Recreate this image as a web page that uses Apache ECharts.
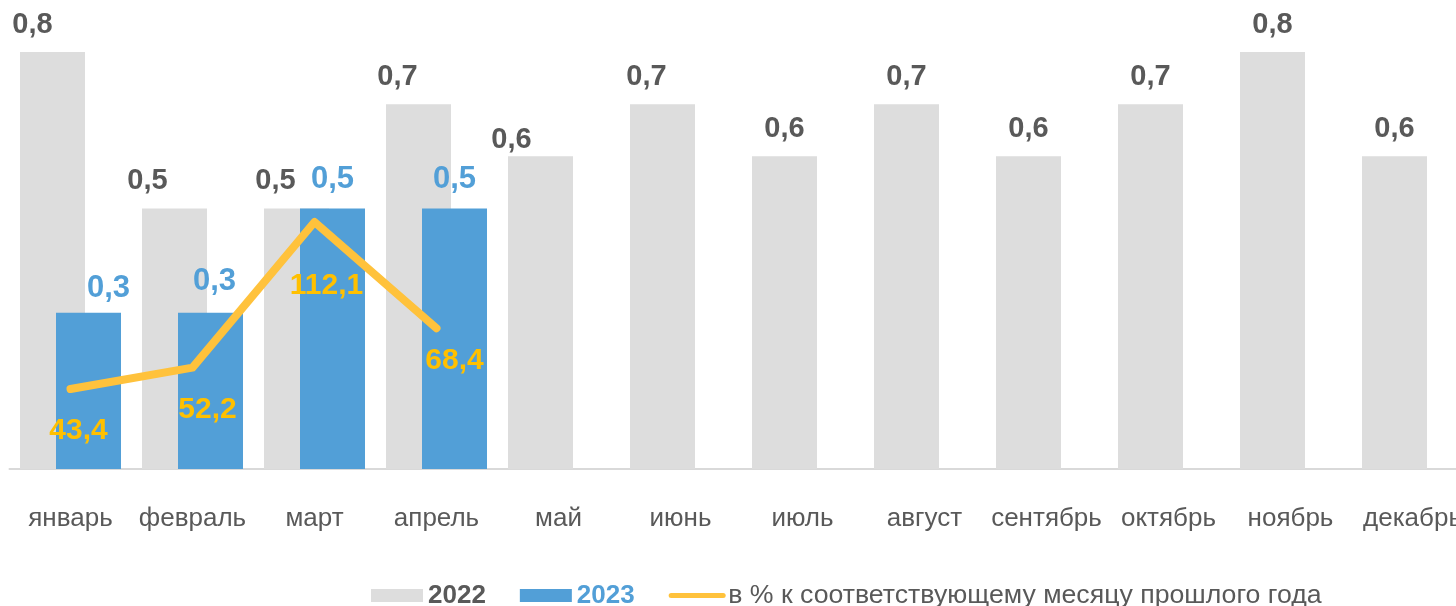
<!DOCTYPE html>
<html>
<head>
<meta charset="utf-8">
<script src="https://cdn.jsdelivr.net/npm/echarts@6/dist/echarts.min.js"></script>
<style>
html,body{margin:0;padding:0;background:#fff;}
#chart{width:1456px;height:606px;}
</style>
</head>
<body>
<div id="chart"></div>
<script>
// ---- data ----
const months = ['январь','февраль','март','апрель','май','июнь','июль','август','сентябрь','октябрь','ноябрь','декабрь'];
const values2022 = [0.8, 0.5, 0.5, 0.7, 0.6, 0.7, 0.6, 0.7, 0.6, 0.7, 0.8, 0.6];
const values2023 = [0.3, 0.3, 0.5, 0.5];
const pctPrevYear = [43.4, 52.2, 112.1, 68.4];
const seriesNames = ['2022', '2023', 'в % к соответствующему месяцу прошлого года'];

// ---- label style tweaks (offsets in px) ----
const shift2022 = [[-20,0],[-27,0],[-21,0],[-21,0],[-29,11],[-16,0],[0,0],[0,0],[0,0],[0,0],[0,0],[0,0]];
const shift2023 = [[20,5],[4,-2],[0,0],[0,0]];
const shiftPct = [[8,42],[15,42],[12,64],[18,33]];

const GRAY = '#DDDDDD', BLUE = '#529FD7', GOLD = '#FFC23C', GOLD_TXT = '#FFC000', DARK = '#595959';
const FONT = '"Liberation Sans", Arial, sans-serif';
const fmt = v => String(v).replace('.', ',');

const chart = echarts.init(document.getElementById('chart'));
chart.setOption({
  animation: false,
  backgroundColor: '#fff',
  textStyle: { fontFamily: FONT },
  grid: { left: 9.5, width: 1464, top: 52, height: 417, containLabel: false, outerBoundsMode: 'none' },
  legend: {
    left: 366, top: 577,
    itemWidth: 52, itemHeight: 13, itemGap: 34,
    selectedMode: false,
    data: [
      { name: seriesNames[0], icon: 'rect', textStyle: { color: DARK, fontWeight: 'bold', fontSize: 26, fontFamily: FONT } },
      { name: seriesNames[1], icon: 'rect', textStyle: { color: BLUE, fontWeight: 'bold', fontSize: 26, fontFamily: FONT } },
      { name: seriesNames[2], lineStyle: { width: 5, cap: 'round' }, itemStyle: { opacity: 0 }, textStyle: { color: DARK, fontSize: 26.7, fontFamily: FONT } }
    ]
  },
  xAxis: {
    type: 'category',
    data: months,
    axisLine: { lineStyle: { color: '#D9D9D9', width: 2 } },
    axisTick: { show: false },
    axisLabel: { color: DARK, fontSize: 26, fontFamily: FONT, margin: 37, interval: 0, hideOverlap: false }
  },
  yAxis: [
    { type: 'value', min: 0, max: 0.8, show: false, splitLine: { show: false } },
    { type: 'value', min: 10.5, max: 182, show: false, splitLine: { show: false } }
  ],
  series: [
    {
      name: seriesNames[0], type: 'bar', barWidth: 65, barGap: '-44.6%',
      itemStyle: { color: GRAY },
      data: values2022.map((v, i) => ({
        value: v,
        label: { offset: shift2022[i] }
      })),
      label: {
        show: true, position: 'top', distance: 12.5,
        color: DARK, fontWeight: 'bold', fontSize: 29, fontFamily: FONT,
        formatter: p => fmt(p.value)
      }
    },
    {
      name: seriesNames[1], type: 'bar', barWidth: 65,
      itemStyle: { color: BLUE },
      data: values2023.map((v, i) => ({
        value: v,
        label: { offset: shift2023[i] }
      })),
      label: {
        show: true, position: 'top', distance: 13.5,
        color: BLUE, fontWeight: 'bold', fontSize: 31, fontFamily: FONT,
        formatter: p => fmt(p.value)
      }
    },
    {
      name: seriesNames[2], type: 'line', yAxisIndex: 1,
      symbol: 'circle', symbolSize: 0.1, showSymbol: true,
      lineStyle: { color: GOLD, width: 8, cap: 'round', join: 'round' },
      itemStyle: { color: GOLD },
      z: 5,
      data: pctPrevYear.map((v, i) => ({
        value: v,
        label: { offset: shiftPct[i] }
      })),
      label: {
        show: true, position: 'inside',
        color: GOLD_TXT, fontWeight: 'bold', fontSize: 30, fontFamily: FONT,
        formatter: p => fmt(p.value)
      }
    }
  ]
});
</script>
</body>
</html>
